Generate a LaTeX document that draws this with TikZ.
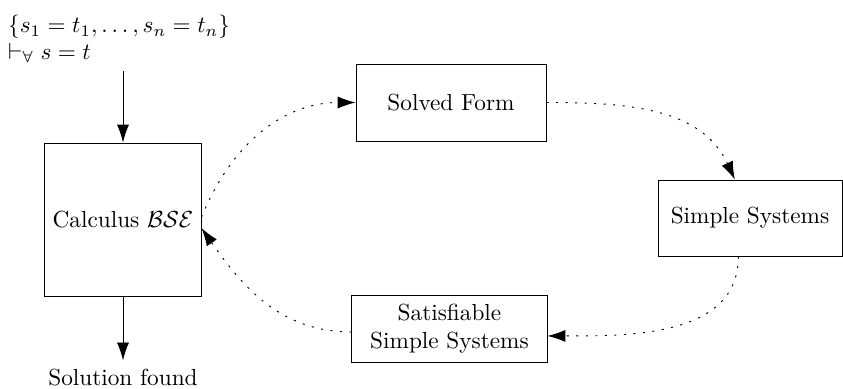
\documentclass[tikz,border=0pt]{standalone}
\usepackage{amsmath}
\usepackage{amssymb}
\usepackage{tikz}
\usepackage{xcolor}
\usetikzlibrary{positioning,arrows.meta}

\begin{document}
\begin{tikzpicture}[x=0.43pt, y=-0.43pt,
    >={Latex[length=7.7pt,width=5.2pt]},
    loop/.style={->, dash pattern=on 0.9pt off 3.2pt}]
    \useasboundingbox (0,0) rectangle (843,389);
    \node[align=left, anchor=north west] (input) at (0,7)
        {$\{s_1=t_1,\ldots,s_n=t_n\}$\\[-0.6pt] $\vdash_{\forall} s=t$};
    \node[draw, rectangle, minimum width=65.4pt, minimum height=65.8pt] (calc) at (123,219.5) {Calculus $\mathcal{BSE}$};
    \node[below=27.5pt of calc] (found) {Solution found};
    \node[draw, rectangle, minimum width=81.7pt, minimum height=33.1pt] (solved) at (451,102.5) {Solved Form};
    \node[draw, rectangle, minimum width=79.1pt, minimum height=32.7pt] (simple) at (750,218) {Simple Systems};
    \node[draw, rectangle, align=center, minimum width=83.9pt, minimum height=28.8pt] (sat) at (449.5,328.5) {Satisfiable\\Simple Systems};
    \draw[->] (calc.north |- input.south) -- (calc.north);
    \draw[->] (calc.south) -- (found.north);
    \draw[loop] ([yshift=1pt]calc.east) to[out=68, in=180] (solved.west);
    \draw[loop] (solved.east) to[out=0, in=115] ([xshift=-6.5pt]simple.north);
    \draw[loop] ([xshift=-5pt]simple.south) to[out=-90, in=0] ([yshift=-3.2pt]sat.east);
    \draw[loop] ([yshift=-1.5pt]sat.west) to[out=180, in=-55] ([yshift=-3.7pt]calc.east);
\end{tikzpicture}
\end{document}
